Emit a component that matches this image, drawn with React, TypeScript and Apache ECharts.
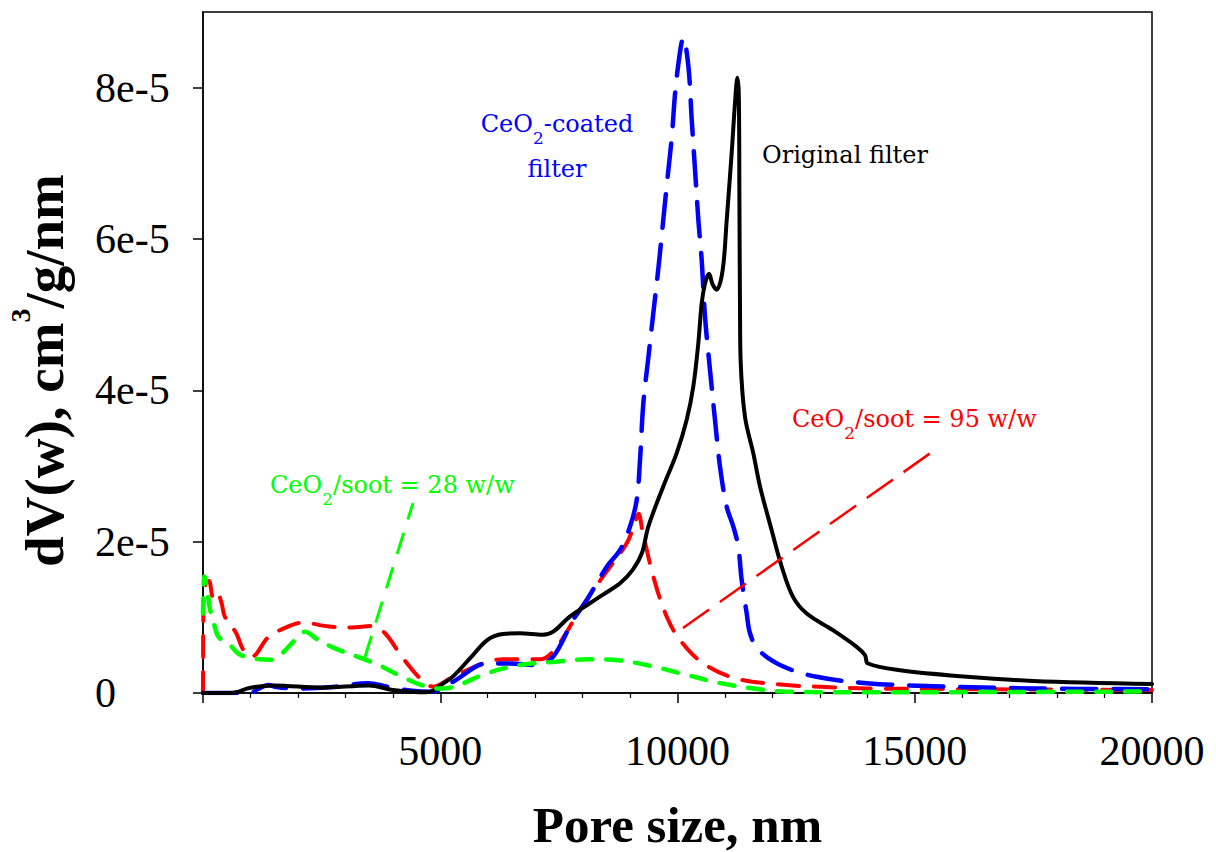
import { useEffect, useRef } from 'react';
import * as echarts from 'echarts';

// ---- data (y values in units of 1e-5 cm3/g/nm) ----
const UNIT = 1e-5;
const xLabelValues = [5000, 10000, 15000, 20000];
const yTickValues = [0, 2e-5, 4e-5, 6e-5, 8e-5];
const yTickLabels = ['0', '2e-5', '4e-5', '6e-5', '8e-5'];

const originalFilter: [number, number][] = [
  [0, 0], [600, 0], [700, 0.01], [1000, 0.07], [1500, 0.1], [2500, 0.07], [3500, 0.1],
  [4000, 0.04], [4700, 0.01], [4850, 0.03], [5000, 0.1], [5270, 0.22], [5630, 0.46],
  [5990, 0.70], [6320, 0.78], [6680, 0.79], [7160, 0.77], [7380, 0.81], [7730, 1.01],
  [8090, 1.16], [8430, 1.30], [8790, 1.45], [9060, 1.63], [9250, 1.85], [9385, 2.20],
  [9700, 2.73], [9983, 3.17], [10194, 3.61], [10333, 4.05], [10438, 4.62], [10510, 5.15],
  [10580, 5.41], [10664, 5.54], [10740, 5.40], [10826, 5.33], [10952, 5.59], [11037, 6.25],
  [11142, 7.14], [11212, 7.80], [11262, 8.13], [11292, 7.90], [11305, 6.50], [11318, 5.00],
  [11330, 4.40], [11422, 3.65], [11597, 3.17], [11739, 2.73], [11985, 2.15], [12196, 1.67],
  [12434, 1.27], [12723, 1.05], [13277, 0.83], [13776, 0.61], [13951, 0.50], [14014, 0.39],
  [14689, 0.30], [16095, 0.215], [17492, 0.16], [20000, 0.12],
];

const ceo2Coated: [number, number][] = [
  [0, 0], [1000, 0], [1150, 0.05], [1380, 0.105], [1550, 0.08], [1950, 0.06], [2650, 0.075],
  [3480, 0.13], [3900, 0.08], [4400, 0.03], [4820, 0.017], [5270, 0.15], [5980, 0.39],
  [6460, 0.39], [7040, 0.37], [7380, 0.48], [7800, 0.965], [8090, 1.23], [8510, 1.67],
  [8790, 1.89], [9000, 2.20], [9140, 2.55], [9210, 3.08], [9280, 3.83], [9380, 4.40],
  [9490, 5.02], [9600, 5.63], [9770, 6.69], [9880, 7.35], [9950, 7.93], [10050, 8.46],
  [10120, 8.66], [10230, 8.28], [10300, 7.57], [10370, 6.91], [10440, 6.25], [10510, 5.72],
  [10580, 4.97], [10685, 4.27], [10790, 3.61], [10896, 2.99], [11037, 2.46], [11176, 2.20],
  [11281, 1.93], [11353, 1.49], [11459, 1.05], [11528, 0.79], [11703, 0.57], [12230, 0.35],
  [12930, 0.215], [13990, 0.13], [15390, 0.09], [17490, 0.06], [20000, 0.05],
];

const soot95: [number, number][] = [
  [0, 0], [10, 1.2], [60, 1.45], [126, 1.48], [210, 1.27], [290, 1.34], [390, 1.19],
  [460, 1.01], [700, 0.79], [850, 0.57], [1025, 0.48], [1380, 0.74], [1800, 0.88],
  [2090, 0.93], [2650, 0.88], [3140, 0.865], [3550, 0.885], [3835, 0.79], [4190, 0.48],
  [4610, 0.17], [4853, 0.083], [5269, 0.215], [5985, 0.41], [6322, 0.445], [7102, 0.445],
  [7454, 0.61], [7945, 1.10], [8430, 1.54], [8930, 1.98], [9130, 2.30], [9180, 2.37],
  [9260, 2.15], [9490, 1.54], [9772, 1.01], [10053, 0.70], [10544, 0.39], [11248, 0.19],
  [12301, 0.105], [13003, 0.083], [13987, 0.06], [20000, 0.04],
];

const soot28: [number, number][] = [
  [0, 1.05], [30, 1.54], [100, 1.30], [150, 1.10], [220, 0.94], [300, 0.77], [400, 0.70],
  [533, 0.66], [744, 0.52], [1026, 0.46], [1448, 0.44], [1659, 0.52], [1939, 0.70],
  [2150, 0.81], [2430, 0.70], [2780, 0.59], [3340, 0.46], [3770, 0.35], [4190, 0.215],
  [4610, 0.105], [4960, 0.06], [5280, 0.08], [5980, 0.26], [6680, 0.37], [7380, 0.41],
  [8090, 0.445], [8790, 0.43], [9490, 0.35], [10190, 0.24], [10900, 0.13], [11600, 0.06],
  [12300, 0.017], [14000, 0.01], [20000, 0.02],
];

const pointer95: [number, number][] = [[10116, 0.86], [15532, 3.26]];
const pointer28: [number, number][] = [[3414, 0.476], [4426, 2.51]];

const SERIF = 'Liberation Serif';
const LABEL_FONT = 'DejaVu Serif';

const scale = (d: [number, number][]) => d.map(([x, y]) => [x, y * UNIT]);

function curve(name: string, data: [number, number][], color: string, width: number, dash: any, z: number, smooth = true) {
  return {
    type: 'line',
    name,
    data: scale(data),
    showSymbol: false,
    symbol: 'none',
    smooth: smooth ? 0.35 : false,
    silent: true,
    z,
    lineStyle: { color, width, type: dash, cap: smooth ? 'round' : 'butt', join: 'round' },
  };
}

function richFor(color: string) {
  return {
    m: { fontFamily: LABEL_FONT, fontSize: 24, lineHeight: 45, verticalAlign: 'middle', fill: color },
    s: { fontFamily: LABEL_FONT, fontSize: 17, lineHeight: 24, verticalAlign: 'bottom', fill: color },
  };
}

function label(x: number, y: number, text: string, color: string, align = 'left') {
  return {
    type: 'text',
    x,
    y,
    silent: true,
    z: 100,
    style: { text, align, verticalAlign: 'middle', rich: richFor(color) },
  };
}

export default function App() {
  const ref = useRef<HTMLDivElement>(null);

  useEffect(() => {
    if (!ref.current) return;
    const chart = echarts.init(ref.current, null, { renderer: 'svg' });
    chart.setOption({
      animation: false,
      backgroundColor: '#fff',
      grid: {
        left: 203, right: 64, top: 12, bottom: 159,
        containLabel: false, outerBoundsMode: 'none',
        show: true, borderColor: '#000', borderWidth: 1.5, backgroundColor: 'transparent',
      },
      xAxis: {
        type: 'value', min: 0, max: 20000, interval: 5000,
        name: 'Pore size, nm', nameLocation: 'middle', nameGap: 112,
        nameTextStyle: { fontFamily: SERIF, fontWeight: 'bold', fontSize: 51, lineHeight: 40, color: '#000' },
        axisLine: { show: true, lineStyle: { color: '#000', width: 1.5 } },
        axisTick: { show: true, inside: false, length: 10, lineStyle: { color: '#000', width: 1.5 } },
        minorTick: { show: true, splitNumber: 5, length: 5, lineStyle: { color: '#000', width: 1.2 } },
        splitLine: { show: false },
        axisLabel: {
          customValues: xLabelValues,
          formatter: (v: number) => String(v),
          fontFamily: SERIF, fontSize: 42, color: '#000', margin: 37,
        },
      },
      yAxis: {
        type: 'value', min: 0, max: 9e-5,
        name: '{b|dV(w), cm}{p|3}{b|/g/nm}', nameLocation: 'middle', nameGap: 121, nameRotate: 90,
        nameTextStyle: {
          padding: [0, 36, 0, 0],
          rich: {
            b: { fontFamily: SERIF, fontWeight: 'bold', fontSize: 55, lineHeight: 76, verticalAlign: 'middle', color: '#000' },
            p: { fontFamily: SERIF, fontWeight: 'bold', fontSize: 28, lineHeight: 28, verticalAlign: 'top', color: '#000' },
          },
        },
        axisLine: { show: true, lineStyle: { color: '#000', width: 1.5 } },
        axisTick: { show: true, inside: false, length: 10, customValues: yTickValues, lineStyle: { color: '#000', width: 1.5 } },
        splitLine: { show: false },
        axisLabel: {
          customValues: yTickValues,
          formatter: (v: number) => {
            let best = 0;
            yTickValues.forEach((t, i) => { if (Math.abs(t - v) < Math.abs(yTickValues[best] - v)) best = i; });
            return yTickLabels[best];
          },
          align: 'left', margin: 108,
          fontFamily: SERIF, fontSize: 42, color: '#000',
        },
      },
      series: [
        curve('CeO2/soot = 95 w/w', soot95, '#ff0000', 4, [21, 15], 2),
        curve('CeO2-coated filter', ceo2Coated, '#0000ff', 4.5, [34, 17], 3),
        curve('Original filter', originalFilter, '#000000', 4, 'solid', 4),
        curve('CeO2/soot = 28 w/w', soot28, '#00ff00', 4.5, [15, 14], 5),
        curve('pointer 95', pointer95, '#ff0000', 2.5, [32, 13], 6, false),
        curve('pointer 28', pointer28, '#00ff00', 3, [22, 14], 6, false),
      ],
      graphic: [
        label(557, 146, '{m|CeO}{s|2}{m|-coated}\n{m|filter}', '#0000ff', 'center'),
        label(762, 155, '{m|Original filter}', '#000000'),
        label(792, 419, '{m|CeO}{s|2}{m|/soot = 95 w/w}', '#ff0000'),
        label(270, 485, '{m|CeO}{s|2}{m|/soot = 28 w/w}', '#00ff00'),
      ],
    });
    return () => chart.dispose();
  }, []);

  return (
    <div
      ref={ref}
      style={{ position: 'fixed', left: 0, top: 0, width: 1216, height: 852, background: '#fff' }}
    />
  );
}
